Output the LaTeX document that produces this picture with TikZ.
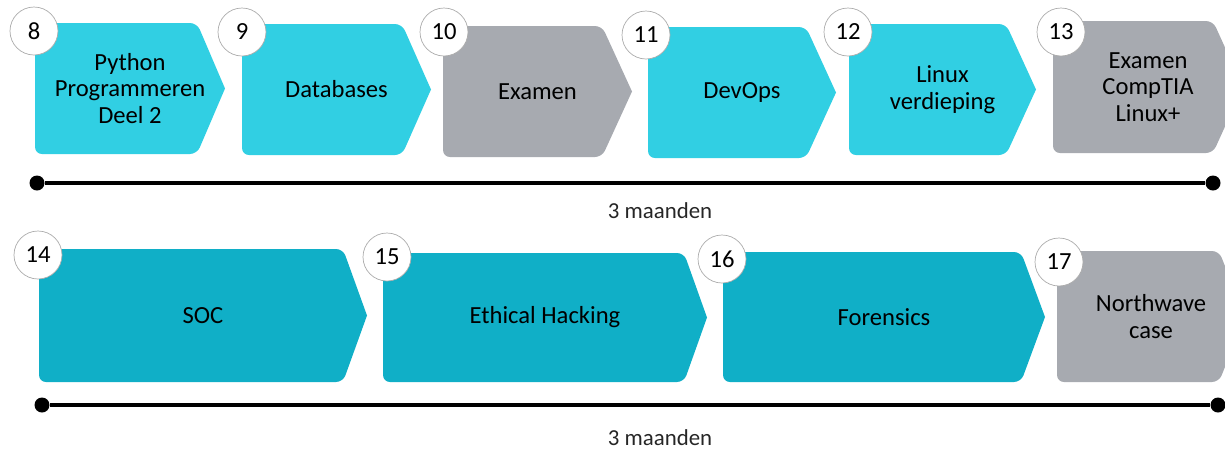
\documentclass[tikz,border=0pt]{standalone}
\usepackage{fontspec}
\setmainfont{Carlito}
\usepackage{xcolor}
\definecolor{cyanlight}{HTML}{31CFE3}
\definecolor{cyandark}{HTML}{10AFC7}
\definecolor{examgray}{HTML}{A7AAB0}
\tikzset{
  numcirc/.style={circle,draw=gray!65,fill=white,minimum size=9.6mm,inner sep=0pt,font=\fontsize{14}{15}\selectfont},
  lesson/.style={align=center,font=\fontsize{14}{15}\selectfont},
  enddot/.style={circle,fill=black,minimum size=3mm,inner sep=0pt},
  span/.style={font=\fontsize{13}{14}\selectfont,text=black!85},
}
\begin{document}
\begin{tikzpicture}[x=0.2mm,y=-0.2mm]
  \useasboundingbox (0,0) rectangle (1225,449);
  \clip (0,0) rectangle (1225,449);
  % chevrons: nr/left/top/bottom/shoulder/tip/colour/circle x/circle y/label
  \foreach \nr/\xa/\ya/\yb/\xc/\xp/\col/\cx/\cy/\lab in {
    8/35/23/154/197/225/cyanlight/34/31/{Python\\Programmeren\\Deel 2},
    9/242/24/155/402/431/cyanlight/242/32/{Databases},
    10/443/26/157/602/632/examgray/444/32/{Examen},
    11/648/27/158/806/836/cyanlight/646/35/{DevOps},
    12/849/24/155/1006/1036/cyanlight/848/32/{Linux\\verdieping},
    13/1053/21/153/1213/1243/examgray/1061/32/{Examen\\CompTIA\\Linux+},
    14/39/249/382/343/367/cyandark/38/255/{SOC},
    15/383/253/382/684/707/cyandark/387/257/{Ethical Hacking},
    16/723/252/382/1021/1045/cyandark/722/259/{Forensics},
    17/1057/251/382/1219/1245/examgray/1059/262/{Northwave\\case}}{
    \fill[\col] (\xp,{(\ya+\yb)/2}) [rounded corners=1.4mm] -- (\xc,\yb) -- (\xa,\yb) -- (\xa,\ya) -- (\xc,\ya) -- (\xp,{(\ya+\yb)/2});
    \node[lesson] (b\nr) at ({(\xa+\xp)/2},{(\ya+\yb)/2}) {\lab};
    \node[numcirc] (c\nr) at (\cx,\cy) {\nr};
  }
  % timelines
  \node[enddot] (s1) at (37,183) {};
  \node[enddot] (e1) at (1213,183) {};
  \draw[line width=1.8pt] (s1) -- (e1);
  \node[span] (m1) at (660,211) {3 maanden};
  \node[enddot] (s2) at (42,405) {};
  \node[enddot] (e2) at (1218,405) {};
  \draw[line width=1.8pt] (s2) -- (e2);
  \node[span] (m2) at (660,438) {3 maanden};
\end{tikzpicture}
\end{document}
